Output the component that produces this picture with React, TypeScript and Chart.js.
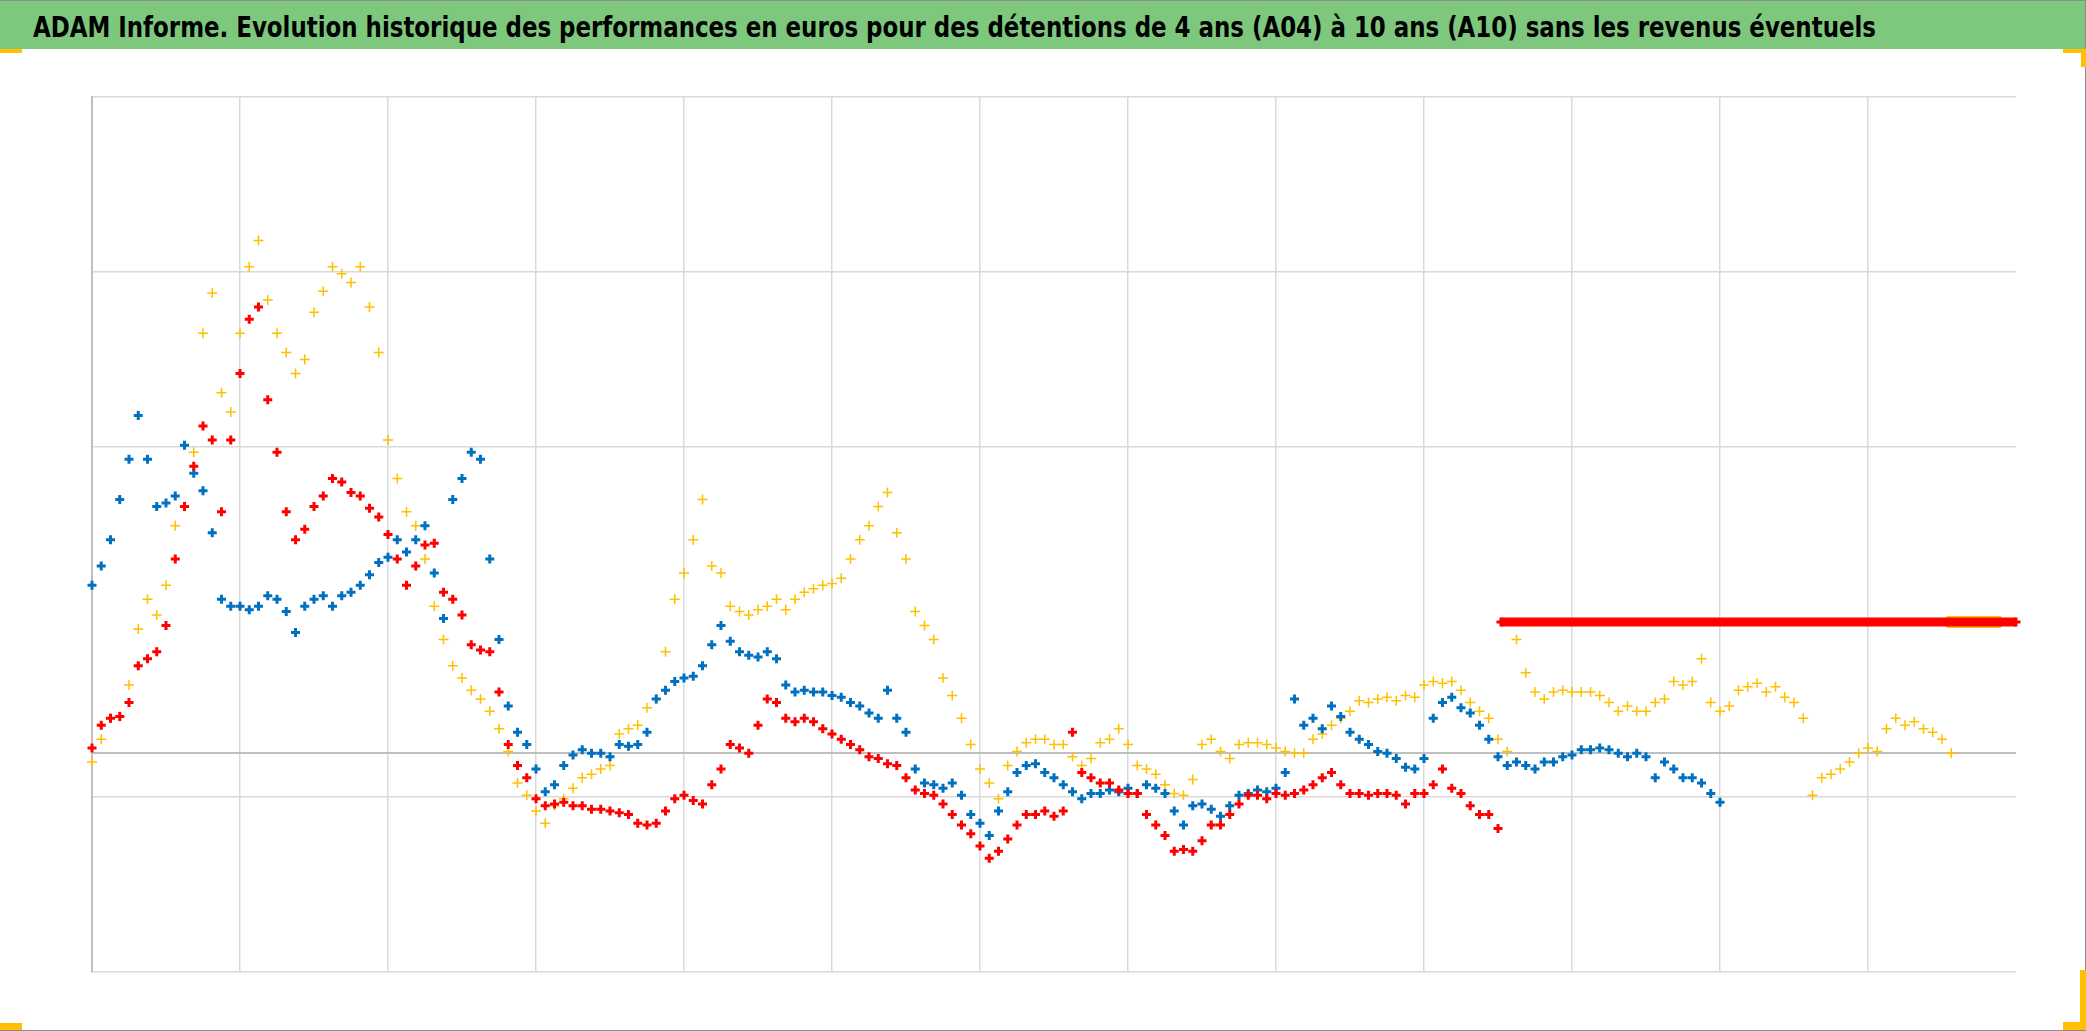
import React, { useEffect, useLayoutEffect, useRef } from "react";
import { Chart, registerables } from "chart.js";

Chart.register(...registerables);

const TITLE =
  "ADAM Informe. Evolution historique des performances en euros pour des détentions de 4 ans (A04) à 10 ans (A10) sans les revenus éventuels";

// x is measured in grid periods (13 periods across the plot); one sample every 1/16 period
const X_STEP = 1 / 16;
const X_PERIODS = 13;

// horizontal grid lines / axis (value 0 is the horizontal axis)
const Y_MIN = -125;
const Y_MAX = 375;
const Y_GRID = [-125, -25, 0, 175, 275, 375];

const SERIES_BLUE = [
  96, 107, 122, 145, 168, 193, 168, 141, 143, 147, 176, 160, 150, 126, 88, 84,
  84, 82, 84, 90, 88, 81, 69, 84, 88, 90, 84, 90, 92, 96, 102, 109,
  112, 122, 115, 122, 130, 103, 77, 145, 157, 172, 168, 111, 65, 27, 12, 5,
  -9, -22, -18, -7, -1, 2, 0, 0, -2, 5, 4, 5, 12, 31, 36, 41,
  43, 44, 50, 62, 73, 64, 58, 56, 55, 58, 54, 39, 35, 36, 35, 35,
  33, 32, 29, 27, 23, 20, 36, 20, 12, -9, -17, -18, -20, -17, -24, -35,
  -40, -47, -33, -22, -11, -7, -6, -11, -14, -18, -22, -26, -23, -23, -21, -22,
  -20, -23, -18, -20, -23, -33, -41, -30, -29, -32, -36, -30, -24, -23, -21, -22,
  -20, -11, 31, 16, 20, 14, 27, 21, 12, 8, 5, 1, 0, -3, -8, -9,
  -3, 20, 29, 32, 26, 23, 16, 8, -2, -7, -5, -7, -9, -5, -5, -2,
  -1, 2, 2, 3, 2, 0, -2, 0, -2, -14, -5, -9, -14, -14, -17, -23,
  -28,
];

const SERIES_RED = [
  3, 16, 20, 21, 29, 50, 54, 58, 73, 111, 141, 164, 187, 179, 138, 179,
  217, 248, 255, 202, 172, 138, 122, 128, 141, 147, 157, 155, 149, 147, 140, 135,
  125, 111, 96, 107, 119, 120, 92, 88, 79, 62, 59, 58, 35, 5, -7, -14,
  -26, -30, -29, -28, -30, -30, -32, -32, -33, -34, -35, -40, -41, -40, -33, -26,
  -24, -27, -29, -18, -9, 5, 3, 0, 16, 31, 29, 20, 18, 20, 18, 14,
  11, 8, 5, 2, -2, -3, -6, -7, -14, -21, -23, -24, -29, -35, -41, -46,
  -53, -60, -56, -49, -41, -35, -35, -33, -36, -33, 12, -11, -14, -17, -17, -21,
  -23, -23, -35, -41, -47, -56, -55, -56, -50, -41, -41, -35, -29, -24, -24, -26,
  -23, -24, -23, -21, -18, -14, -11, -18, -23, -23, -24, -23, -23, -24, -29, -23,
  -23, -18, -9, -20, -23, -30, -35, -35, -43,
];

const SERIES_GOLD = [
  -5, 8, 20, 21, 39, 71, 88, 79, 96, 130, 141, 172, 240, 263, 206, 195,
  240, 278, 293, 259, 240, 229, 217, 225, 252, 264, 278, 274, 269, 278, 255, 229,
  179, 157, 138, 130, 111, 84, 65, 50, 43, 36, 31, 24, 14, 1, -17, -24,
  -33, -40, -30, -26, -20, -14, -12, -9, -7, 11, 14, 16, 26, 31, 58, 88,
  103, 122, 145, 107, 103, 84, 81, 79, 82, 84, 88, 82, 88, 92, 94, 96,
  97, 100, 111, 122, 130, 141, 149, 126, 111, 81, 73, 65, 43, 33, 20, 5,
  -9, -17, -26, -7, 1, 6, 8, 8, 5, 5, -2, -7, -3, 6, 8, 14,
  5, -7, -9, -12, -18, -23, -24, -15, 5, 8, 1, -3, 5, 6, 6, 5,
  3, 1, 0, 0, 8, 11, 16, 20, 24, 30, 29, 31, 32, 30, 33, 32,
  39, 41, 40, 41, 36, 29, 24, 20, 8, 1, 65, 46, 35, 31, 35, 36,
  35, 35, 35, 33, 29, 24, 27, 24, 24, 29, 31, 41, 39, 41, 54, 29,
  24, 27, 36, 38, 40, 35, 38, 32, 29, 20, -24, -14, -12, -9, -5, 0,
  3, 1, 14, 20, 16, 18, 14, 12, 8, 0,
];

// constant value shown after the end of the real data
const PLATEAU_VALUE = 75;
const RED_PLATEAU_X = [9.52, 13];
const GOLD_PLATEAU_X = [12.53, 12.9];

const BLUE = "#0070C0";
const RED = "#FF0000";
const GOLD = "#FFC000";

const toPoints = (vals: number[]) => vals.map((y, i) => ({ x: i * X_STEP, y }));

export default function App() {
  const canvasRef = useRef<HTMLCanvasElement>(null);
  const titleRef = useRef<HTMLSpanElement>(null);

  useLayoutEffect(() => {
    const fit = () => {
      const el = titleRef.current;
      if (!el) return;
      el.style.transform = "none";
      const w = el.getBoundingClientRect().width;
      if (w > 0) el.style.transform = `scaleX(${1843 / w})`;
    };
    fit();
    if ((document as any).fonts && (document as any).fonts.ready) {
      (document as any).fonts.ready.then(fit);
    }
  }, []);

  useEffect(() => {
    const canvas = canvasRef.current;
    if (!canvas) return;
    const cross = (color: string, radius: number, width: number, order: number) => ({
      pointStyle: "cross" as const,
      pointRadius: radius,
      pointBorderWidth: width,
      pointBorderColor: color,
      pointBackgroundColor: color,
      borderColor: color,
      backgroundColor: color,
      showLine: false,
      clip: false as any,
      order,
    });
    const chart = new Chart(canvas, {
      type: "scatter",
      data: {
        datasets: [
          {
            label: "plateau rouge",
            data: RED_PLATEAU_X.map((x) => ({ x, y: PLATEAU_VALUE })),
            ...cross(RED, 4.5, 3, 0),
            showLine: true,
            borderWidth: 9,
          },
          { label: "rouge", data: toPoints(SERIES_RED), ...cross(RED, 4.5, 3, 1) },
          { label: "bleu", data: toPoints(SERIES_BLUE), ...cross(BLUE, 4.5, 3, 2) },
          { label: "jaune", data: toPoints(SERIES_GOLD), ...cross(GOLD, 5, 1.5, 3) },
          {
            label: "plateau jaune",
            data: GOLD_PLATEAU_X.map((x) => ({ x, y: PLATEAU_VALUE })),
            ...cross(GOLD, 0, 1.5, 4),
            showLine: true,
            borderWidth: 12,
          },
        ] as any,
      },
      options: {
        animation: false,
        responsive: false,
        devicePixelRatio: 1,
        events: [],
        layout: { padding: { left: 92, top: 97, right: 70, bottom: 59 } },
        plugins: { legend: { display: false }, tooltip: { enabled: false }, title: { display: false } },
        scales: {
          x: {
            type: "linear",
            min: 0,
            max: X_PERIODS,
            ticks: { display: false, stepSize: 1 },
            grid: {
              drawTicks: false,
              color: (c: any) =>
                c.tick && (c.tick.value === 0 || c.tick.value === X_PERIODS) ? "rgba(0,0,0,0)" : "#d9d9d9",
              lineWidth: 1.5,
            },
            border: { display: false },
          },
          y: {
            type: "linear",
            min: Y_MIN,
            max: Y_MAX,
            afterBuildTicks: (s: any) => {
              s.ticks = Y_GRID.map((v) => ({ value: v }));
            },
            ticks: { display: false },
            grid: {
              drawTicks: false,
              color: (c: any) => (c.tick && c.tick.value === 0 ? "#bfbfbf" : "#d9d9d9"),
              lineWidth: (c: any) => (c.tick && c.tick.value === 0 ? 2 : 1.5),
            },
            border: { display: true, color: "#bfbfbf", width: 2 },
          },
        },
      } as any,
    });
    return () => chart.destroy();
  }, []);

  const gold = (style: React.CSSProperties) => (
    <div style={{ position: "absolute", background: GOLD, ...style }} />
  );

  return (
    <div
      style={{
        position: "absolute",
        left: 0,
        top: 0,
        width: 2086,
        height: 1031,
        background: "#ffffff",
        overflow: "hidden",
      }}
    >
      <canvas
        ref={canvasRef}
        width={2086}
        height={1031}
        style={{ position: "absolute", left: 0, top: 0, width: 2086, height: 1031 }}
      />
      <div
        style={{
          position: "absolute",
          left: 0,
          top: 0,
          width: 2086,
          height: 49,
          background: "#7dc87d",
          borderTop: "1px solid #8c8c8c",
          boxSizing: "border-box",
        }}
      >
        <span
          ref={titleRef}
          style={{
            position: "absolute",
            left: 33,
            top: 13,
            whiteSpace: "nowrap",
            fontFamily: '"Liberation Sans Narrow", "DejaVu Sans Condensed", "Open Sans", sans-serif',
            fontStretch: "condensed",
            fontWeight: 700,
            fontSize: 28,
            lineHeight: "28px",
            color: "#000000",
            transformOrigin: "0 0",
            display: "inline-block",
          }}
        >
          {TITLE}
        </span>
      </div>
      {/* frame */}
      <div style={{ position: "absolute", right: 0, top: 0, width: 1, height: 1031, background: "#8c8c8c" }} />
      <div style={{ position: "absolute", left: 0, bottom: 0, width: 2086, height: 1, background: "#8c8c8c" }} />
      {gold({ left: 0, top: 49, width: 22, height: 4 })}
      {gold({ left: 2063, top: 49, width: 23, height: 4 })}
      {gold({ left: 2081, top: 49, width: 5, height: 18 })}
      {gold({ left: 0, top: 1023, width: 22, height: 7 })}
      {gold({ left: 2080, top: 970, width: 6, height: 60 })}
      {gold({ left: 2063, top: 1022, width: 23, height: 8 })}
    </div>
  );
}
